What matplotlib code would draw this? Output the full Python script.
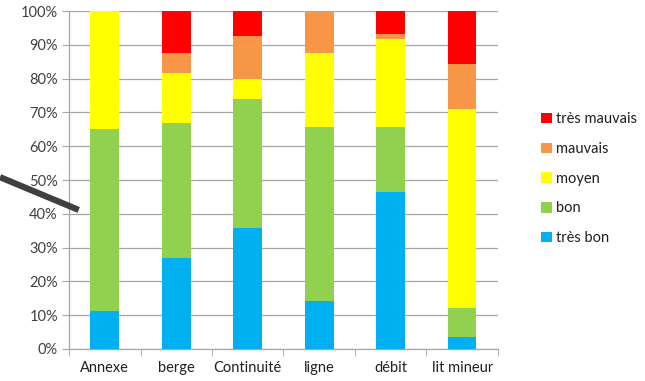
import matplotlib
matplotlib.use("Agg")
import matplotlib.pyplot as plt
import numpy as np
from matplotlib.lines import Line2D
from matplotlib.patches import Patch

categories = ["Annexe", "berge", "Continuité", "ligne", "débit", "lit mineur"]
tres_bon = [11.3, 26.8, 35.7, 14.1, 46.5, 3.6]
bon = [53.7, 40.1, 38.3, 51.5, 19.1, 8.6]
moyen = [35.0, 14.8, 6.0, 22.0, 26.2, 58.9]
mauvais = [0.0, 5.9, 12.7, 12.4, 1.4, 13.1]
tres_mauvais = [0.0, 12.4, 7.3, 0.0, 6.8, 15.8]

series = [("très bon", tres_bon, "#00B0F0"),
          ("bon", bon, "#92D050"),
          ("moyen", moyen, "#FFFF00"),
          ("mauvais", mauvais, "#F79646"),
          ("très mauvais", tres_mauvais, "#FF0000")]

plt.rcParams['font.family'] = ['Lato', 'DejaVu Sans']

fig = plt.figure(figsize=(6.45, 3.81), dpi=100)
ax = fig.add_axes([0.107, 0.084, 0.665, 0.887])

x = np.arange(len(categories))
bottom = np.zeros(len(categories))
handles = []
for name, vals, col in series:
    v = np.array(vals, dtype=float)
    ax.bar(x, v, 0.4, bottom=bottom, color=col, linewidth=0, zorder=3)
    bottom += v
    handles.append(Patch(facecolor=col, edgecolor='none', label=name))

ax.set_xlim(-0.5, len(categories) - 0.5)
ax.set_ylim(0, 100)
ax.set_yticks(np.arange(0, 101, 10))
ax.set_yticklabels([f"{t}%" for t in range(0, 101, 10)], fontsize=10.5, color="#404040")
ax.yaxis.grid(True, color="#A6A6A6", linewidth=0.9, zorder=0)
ax.set_xticks(x)
ax.set_xticklabels(categories, fontsize=10.5, color="#202020")
ax.tick_params(axis='x', length=0, pad=9)
ax.set_xticks(np.arange(-0.5, len(categories), 1), minor=True)
ax.tick_params(axis='x', which='minor', length=5, color="#A6A6A6", direction='out')
ax.tick_params(axis='y', length=5, color="#A6A6A6", direction='out', pad=3)
for s in ['top', 'right']:
    ax.spines[s].set_visible(False)
for s in ['left', 'bottom']:
    ax.spines[s].set_color("#A6A6A6")
    ax.spines[s].set_linewidth(0.9)

leg = fig.legend(handles=handles[::-1], loc='upper left', bbox_to_anchor=(0.818, 0.74),
                 frameon=False, fontsize=10.5, handlelength=0.75, handleheight=0.75,
                 handletextpad=0.3, labelspacing=1.08)
for t in leg.get_texts():
    t.set_color("#202020")

fig.add_artist(Line2D([0.0, 0.122], [0.535, 0.449], transform=fig.transFigure,
                      color="#404040", linewidth=4.5, solid_capstyle='butt'))

fig.savefig("out.png", dpi=100)
